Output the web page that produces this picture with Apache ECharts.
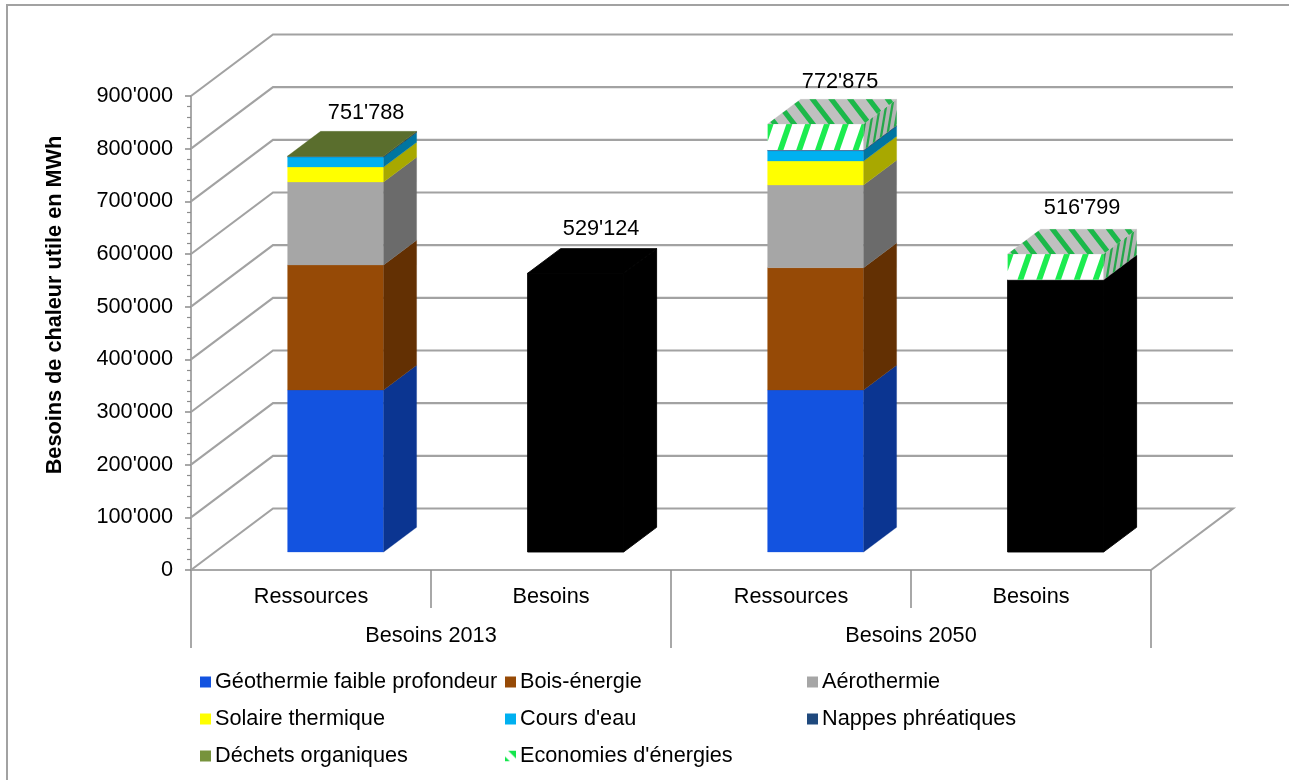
<!DOCTYPE html>
<html>
<head>
<meta charset="utf-8">
<style>html,body{margin:0;padding:0;background:#fff}#chart{width:1289px;height:780px}</style>
<script src="https://cdn.jsdelivr.net/npm/echarts@6/dist/echarts.min.js"></script>
</head>
<body>
<div id="chart"></div>
<script>
// Chart data (MWh)
const categories = ["Ressources", "Besoins", "Ressources", "Besoins"];
const groups = ["Besoins 2013", "Besoins 2050"];
const yTicks = [0, 100000, 200000, 300000, 400000, 500000, 600000, 700000, 800000, 900000];
const geothermie = [307600, 0, 307600, 0];
const bois = [237400, 0, 232200, 0];
const aerothermie = [157500, 0, 157000, 0];
const solaire = [28500, 0, 45600, 0];
const coursEau = [18800, 0, 19500, 0];
const nappes = [1400, 0, 1300, 0];
const dechets = [588, 0, 0, 0];
const besoins = [0, 529124, 0, 516799];
const economies = [0, 0, 49400, 49000];
const totalLabels = ["751'788", "529'124", "772'875", "516'799"];

// Layer order, bottom to top, with the shades of each visible face
const layers = [
  { name: "Géothermie faible profondeur", values: geothermie, front: "#1353e0", side: "#0b3591", top: "#0e3fa8" },
  { name: "Bois-énergie", values: bois, front: "#964a06", side: "#633003", top: "#703804" },
  { name: "Aérothermie", values: aerothermie, front: "#a6a6a6", side: "#6b6b6b", top: "#7c7c7c" },
  { name: "Solaire thermique", values: solaire, front: "#ffff00", side: "#a8a800", top: "#bfbf00" },
  { name: "Cours d'eau", values: coursEau, front: "#00b0f0", side: "#0075a0", top: "#0084b4" },
  { name: "Nappes phréatiques", values: nappes, front: "#1f497d", side: "#143052", top: "#17375e" },
  { name: "Déchets organiques", values: dechets, front: "#77933c", side: "#4f6228", top: "#5a6e2d" },
  { name: "Besoins", values: besoins, front: "#000000", side: "#000000", top: "#000000", seamless: true },
  { name: "Economies d'énergies", values: economies, hatched: true, front: "#ffffff", side: "#b4b4b4", top: "#c0c0c0" }
];

// Oblique projection used by the 3D look: back wall offset and bar placement/depth
const WALL = [82, -61.5];
const BAR_SHIFT = [24.6, -18];
const BAR_DEPTH = [33, -24.7];
const BAR_RATIO = 0.4;
const LABEL_OFFSET = [25.5, -44];
const LABEL_NUDGE = [5, 0, -1, 1];
const LABEL_NUDGE_Y = [1, 0, 2, -2];
const GREY = "#a2a2a2";
const AXIS_GREY = "#8c8c8c";
const FONT = '"Liberation Sans", Arial, sans-serif';
const FONT_SIZE = 21.7;

function formatThousands(v) {
  return String(v).replace(/\B(?=(\d{3})+(?!\d))/g, "'");
}

// Stack bases for each category, and which layer closes each stack
const stackBase = layers.map(() => categories.map(() => 0));
const topLayer = categories.map(() => -1);
const stackTotal = categories.map(() => 0);
layers.forEach((layer, li) => {
  layer.values.forEach((v, ci) => {
    stackBase[li][ci] = stackTotal[ci];
    stackTotal[ci] += v;
    if (v > 0) topLayer[ci] = li;
  });
});

// Sutherland-Hodgman clip of a polygon to the box [0,w] x [0,h]
function clipToBox(poly, w, h) {
  const edges = [
    [p => p[0] >= 0, (a, b) => (0 - a[0]) / (b[0] - a[0])],
    [p => p[0] <= w, (a, b) => (w - a[0]) / (b[0] - a[0])],
    [p => p[1] >= 0, (a, b) => (0 - a[1]) / (b[1] - a[1])],
    [p => p[1] <= h, (a, b) => (h - a[1]) / (b[1] - a[1])]
  ];
  let out = poly;
  edges.forEach(([inside, cut]) => {
    const input = out;
    out = [];
    input.forEach((cur, i) => {
      const prev = input[(i + input.length - 1) % input.length];
      const curIn = inside(cur), prevIn = inside(prev);
      if (curIn !== prevIn) {
        const t = cut(prev, cur);
        out.push([prev[0] + t * (cur[0] - prev[0]), prev[1] + t * (cur[1] - prev[1])]);
      }
      if (curIn) out.push(cur);
    });
  });
  return out;
}

// Diagonal stripes laid on a face given by origin, unit-u vector and unit-v vector
function stripes(origin, uVec, vVec, w, h, lean, period, width, color) {
  const els = [];
  const from = -Math.abs(lean) - period;
  for (let s = from; s < w + Math.abs(lean) + period; s += period) {
    const poly = clipToBox([[s, 0], [s + width, 0], [s + width + lean, h], [s + lean, h]], w, h);
    if (poly.length < 3) continue;
    els.push({
      type: "polygon",
      shape: { points: poly.map(p => [origin[0] + p[0] * uVec[0] + p[1] * vVec[0], origin[1] + p[0] * uVec[1] + p[1] * vVec[1]]) },
      style: { fill: color }
    });
  }
  return els;
}

function poly(points, fill, lineWidth) {
  return { type: "polygon", shape: { points }, style: { fill, stroke: fill, lineWidth } };
}

// One stacked block: front, side and, for the last layer of a stack, the top face
function renderBlock(layer, li) {
  const edge = layer.seamless ? 0.9 : 0.3;
  return function (params, api) {
    const ci = api.value(0);
    const a = api.coord([ci, api.value(1)]);
    const b = api.coord([ci, api.value(2)]);
    const w = api.size([1, 0])[0] * BAR_RATIO;
    const x0 = a[0] + BAR_SHIFT[0] - w / 2, x1 = x0 + w;
    const yb = a[1] + BAR_SHIFT[1], yt = b[1] + BAR_SHIFT[1];
    const dx = BAR_DEPTH[0], dy = BAR_DEPTH[1];
    const h = yb - yt;
    const children = [
      poly([[x0, yb], [x1, yb], [x1, yt], [x0, yt]], layer.front, edge),
      poly([[x1, yb], [x1 + dx, yb + dy], [x1 + dx, yt + dy], [x1, yt]], layer.side, edge)
    ];
    if (layer.hatched) {
      children.push(...stripes([x0, yb], [1, 0], [0, -1], w, h, 9, 18.8, 6, "#1cec50"));
      children.push(...stripes([x1, yb], [1, dy / dx], [0, -1], dx, h, 5, 7, 2.6, "#24a84a"));
    }
    if (topLayer[ci] === li) {
      children.push(poly([[x0, yt], [x1, yt], [x1 + dx, yt + dy], [x0 + dx, yt + dy]], layer.top, edge));
      if (layer.hatched) {
        children.push(...stripes([x0, yt], [1, 0], [dx, dy], w, 1, -52, 18.8, 6.5, "#1cb84a"));
      }
    }
    return { type: "group", children };
  };
}

// Floor and wall gridlines: side-wall diagonal followed by the back-wall line
function renderGridline(params, api) {
  const y = api.coord([0, api.value(0)])[1];
  const cs = params.coordSys;
  const left = cs.x, right = cs.x + cs.width;
  const pts = [[left, y], [left + WALL[0], y + WALL[1]], [right + WALL[0], y + WALL[1]]];
  if (api.value(0) === 0) pts.push([right, y]);
  return { type: "polyline", shape: { points: pts }, style: { stroke: GREY, lineWidth: 2.1, fill: null } };
}

function renderTotal(params, api) {
  const ci = api.value(0);
  const p = api.coord([ci, api.value(1)]);
  return {
    type: "text",
    style: {
      x: p[0] + BAR_SHIFT[0] + LABEL_OFFSET[0] + LABEL_NUDGE[ci],
      y: p[1] + BAR_SHIFT[1] + LABEL_OFFSET[1] + LABEL_NUDGE_Y[ci],
      text: totalLabels[ci],
      fill: "#000",
      font: FONT_SIZE + "px " + FONT,
      align: "center",
      verticalAlign: "middle"
    }
  };
}

// Legend swatch for the hatched layer
function hatchSwatch() {
  const c = document.createElement("canvas");
  c.width = c.height = 11;
  const g = c.getContext("2d");
  g.fillStyle = "#fff";
  g.fillRect(0, 0, 11, 11);
  g.fillStyle = "#12e64c";
  g.beginPath(); g.moveTo(3, 0); g.lineTo(11, 0); g.lineTo(11, 8); g.closePath(); g.fill();
  g.beginPath(); g.moveTo(0, 6); g.lineTo(5, 11); g.lineTo(0, 11); g.closePath(); g.fill();
  return { image: c, repeat: "no-repeat" };
}

const series = [
  {
    name: "grille",
    type: "custom",
    coordinateSystem: "cartesian2d",
    renderItem: renderGridline,
    encode: { y: 0 },
    data: yTicks.map(v => [v]),
    silent: true
  }
];
layers.forEach((layer, li) => {
  series.push({
    name: layer.name,
    type: "custom",
    coordinateSystem: "cartesian2d",
    renderItem: renderBlock(layer, li),
    itemStyle: { color: layer.front },
    encode: { x: 0, y: [1, 2] },
    data: layer.values
      .map((v, ci) => [ci, stackBase[li][ci], stackBase[li][ci] + v])
      .filter(d => d[2] > d[1]),
    silent: true
  });
});
series.push({
  name: "totaux",
  type: "custom",
  coordinateSystem: "cartesian2d",
  renderItem: renderTotal,
  encode: { x: 0, y: 1 },
  data: categories.map((c, ci) => [ci, stackTotal[ci]]),
  silent: true
});

function legendColumn(names, left) {
  return {
    orient: "vertical",
    left,
    top: 665,
    itemWidth: 11,
    itemHeight: 11,
    itemGap: 13,
    selectedMode: false,
    textStyle: { fontFamily: FONT, fontSize: FONT_SIZE, color: "#000", lineHeight: 24, padding: [0, 0, 0, -1] },
    data: names.map(n => {
      const item = { name: n, icon: "rect" };
      if (n === "Economies d'énergies") item.itemStyle = { color: hatchSwatch() };
      return item;
    })
  };
}

const chart = echarts.init(document.getElementById("chart"), null, { renderer: "canvas" });
chart.setOption({
  animation: false,
  backgroundColor: "#fff",
  grid: { left: 191, top: 96, width: 960, height: 474, containLabel: false },
  xAxis: [
    {
      type: "category",
      data: categories,
      position: "bottom",
      axisLine: { show: true, lineStyle: { color: AXIS_GREY, width: 1.5 } },
      axisTick: { show: true, length: 38, lineStyle: { color: AXIS_GREY, width: 1.5 } },
      axisLabel: { interval: 0, margin: 16, color: "#000", fontFamily: FONT, fontSize: FONT_SIZE },
      splitLine: { show: false }
    },
    {
      type: "category",
      data: groups,
      position: "bottom",
      axisLine: { show: false },
      axisTick: { show: true, length: 78, lineStyle: { color: AXIS_GREY, width: 1.5 } },
      axisLabel: { interval: 0, margin: 55, color: "#000", fontFamily: FONT, fontSize: FONT_SIZE },
      splitLine: { show: false }
    }
  ],
  yAxis: {
    type: "value",
    min: 0,
    max: 900000,
    interval: 100000,
    axisLine: { show: true, lineStyle: { color: AXIS_GREY, width: 1.5 } },
    axisTick: { show: true, length: 6, lineStyle: { color: AXIS_GREY, width: 1.5 } },
    minorTick: { show: true, splitNumber: 5, length: 4, lineStyle: { color: AXIS_GREY, width: 1.2 } },
    splitLine: { show: false },
    axisLabel: { margin: 18, color: "#000", fontFamily: FONT, fontSize: FONT_SIZE, padding: [2, 0, 0, 0], formatter: formatThousands }
  },
  legend: [
    legendColumn(["Géothermie faible profondeur", "Solaire thermique", "Déchets organiques"], 195),
    legendColumn(["Bois-énergie", "Cours d'eau", "Economies d'énergies"], 500),
    legendColumn(["Aérothermie", "Nappes phréatiques"], 802)
  ],
  graphic: [
    {
      type: "text",
      x: 55,
      y: 305,
      rotation: Math.PI / 2,
      silent: true,
      style: {
        text: "Besoins de chaleur utile en MWh",
        fill: "#000",
        font: "bold 21.7px " + FONT,
        align: "center",
        verticalAlign: "middle"
      }
    },
    {
      type: "polyline",
      silent: true,
      shape: { points: [[7, 780], [7, 5], [1289, 5]] },
      style: { stroke: GREY, lineWidth: 2, fill: null }
    }
  ],
  series
});
</script>
</body>
</html>
